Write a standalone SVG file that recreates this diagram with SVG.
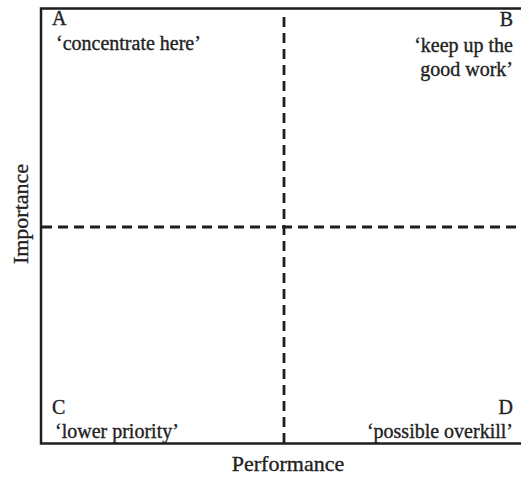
<svg xmlns="http://www.w3.org/2000/svg" width="521" height="478" viewBox="0 0 521 478">
<style>
.frame{stroke:#1e1e1e;stroke-width:2.5;fill:none}
.dash{stroke:#1e1e1e;stroke-width:2.8;stroke-dasharray:10 6;fill:none}
.t{font-family:"Liberation Serif","Times New Roman",serif;font-size:20px;fill:#222;stroke:#222;stroke-width:0.35}
.ax{font-family:"Liberation Serif","Times New Roman",serif;font-size:22px;fill:#222;stroke:#222;stroke-width:0.35}
</style>
<rect width="521" height="478" fill="#ffffff"/>
<g id="connectors">
<path class="frame" d="M521,8.5 H41 V443.5 H521"/>
<path class="dash" d="M284,17 V443"/>
<path class="dash" d="M42,227 H521"/>
</g>
<g id="quadA">
<text class="t" x="52" y="25">A</text>
<text class="t" x="56" y="50">‘concentrate here’</text>
</g>
<g id="quadB">
<text class="t" x="513" y="26" text-anchor="end">B</text>
<text class="t" x="513" y="52" text-anchor="end">‘keep up the</text>
<text class="t" x="513" y="76" text-anchor="end">good work’</text>
</g>
<g id="quadC">
<text class="t" x="52" y="414">C</text>
<text class="t" x="55" y="438">‘lower priority’</text>
</g>
<g id="quadD">
<text class="t" x="513" y="414" text-anchor="end">D</text>
<text class="t" x="513" y="438" text-anchor="end">‘possible overkill’</text>
</g>
<g id="axisX">
<text class="ax" x="288" y="471" text-anchor="middle">Performance</text>
</g>
<g id="axisY">
<text class="ax" transform="translate(28,214) rotate(-90)" text-anchor="middle">Importance</text>
</g>
</svg>
